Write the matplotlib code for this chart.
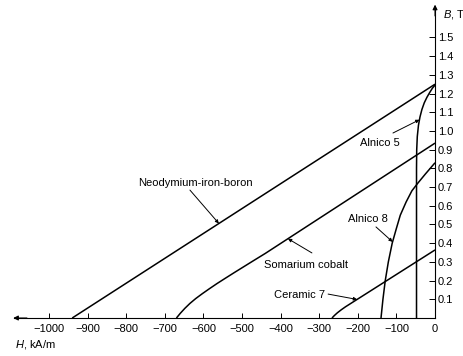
"""Demagnetization curves of common permanent-magnet materials."""
import numpy as np
import matplotlib

matplotlib.use("Agg")
import matplotlib.pyplot as plt  # noqa: E402

plt.rcParams["font.family"] = ["Liberation Sans", "DejaVu Sans"]
plt.rcParams["mathtext.fontset"] = "custom"
plt.rcParams["mathtext.it"] = "Liberation Sans:italic"
plt.rcParams["mathtext.rm"] = "Liberation Sans"

# H in kA/m, B in T
ndfeb_h = [-940, 0]
ndfeb_b = [0.0, 1.25]

smco_h = [-670, -660, -648, -635, -620, -603, -585, -565, -543, -520, -495, -470, -440, 0]
smco_b = [0.0, 0.025, 0.052, 0.078, 0.104, 0.13, 0.156, 0.184, 0.213, 0.243, 0.275, 0.307, 0.345, 0.935]

alnico5_h = [-48, -48, -47.5, -46, -43, -39, -34, -28, -21, -14, -7, 0]
alnico5_b = [0.0, 0.80, 0.90, 0.97, 1.03, 1.075, 1.115, 1.15, 1.18, 1.205, 1.228, 1.245]

alnico8_h = [-140, -135, -129, -121, -111, -100, -90, -75, -60, -45, -25, 0]
alnico8_b = [0.0, 0.10, 0.20, 0.30, 0.40, 0.48, 0.55, 0.62, 0.68, 0.72, 0.77, 0.83]

ceramic7_h = [-267, -261, -253, -243, -232, 0]
ceramic7_b = [0.0, 0.013, 0.028, 0.044, 0.06, 0.364]

x_ticks = list(range(-1000, 1, 100))
y_ticks = [round(0.1 * k, 1) for k in range(1, 16)]

# label text, text centre (H, B), leader start (H, B), leader tip on curve (H)
labels = [
    ("Neodymium-iron-boron", (-622, 0.722), (-635, 0.684), -560, ndfeb_h, ndfeb_b),
    ("Somarium cobalt", (-334, 0.283), (-319, 0.348), -381, smco_h, smco_b),
    ("Alnico 8", (-174, 0.529), (-153, 0.487), -110, alnico8_h, alnico8_b),
    ("Ceramic 7", (-350, 0.123), (-277, 0.128), -202, ceramic7_h, ceramic7_b),
]
# Alnico 5 is nearly vertical, so its tip is given as a B value
alnico5_label = ("Alnico 5", (-142, 0.936), (-109, 0.989), 1.06)

fig = plt.figure(figsize=(4.64, 3.56), dpi=100)
ax = fig.add_axes([0, 0, 1, 1])
ax.set_xlim(-1127, 75)
ax.set_ylim(-0.203, 1.70)

curve_kw = dict(color="black", lw=1.1, solid_capstyle="butt")
for h, b in [(ndfeb_h, ndfeb_b), (smco_h, smco_b), (alnico5_h, alnico5_b),
             (alnico8_h, alnico8_b), (ceramic7_h, ceramic7_b)]:
    ax.plot(h, b, **curve_kw)

# axes drawn through the origin, like the textbook figure
for side in ("left", "top"):
    ax.spines[side].set_visible(False)
ax.spines["bottom"].set_position(("data", 0))
ax.spines["bottom"].set_bounds(-1090, 0)
ax.spines["right"].set_position(("data", 0))
ax.spines["right"].set_bounds(0, 1.66)
for side in ("bottom", "right"):
    ax.spines[side].set_linewidth(0.8)

ax.yaxis.set_ticks_position("right")
ax.set_xticks(x_ticks)
ax.set_xticklabels([str(t).replace("-", "\u2212") for t in x_ticks])
ax.set_yticks(y_ticks)
ax.set_yticklabels([f"{t:.1f}" for t in y_ticks])
ax.tick_params(axis="x", direction="in", length=3.5, width=0.7, pad=4, labelsize=8)
ax.tick_params(axis="y", direction="in", length=4, width=0.7, pad=2, labelsize=8)

# arrow heads on the axes
arrow_kw = dict(arrowstyle="-|>", lw=0.8, color="black", mutation_scale=7)
ax.annotate("", xy=(-1100, 0), xytext=(-1050, 0), arrowprops=arrow_kw)
ax.annotate("", xy=(0, 1.69), xytext=(0, 1.6), arrowprops=arrow_kw)

ax.text(-1088, -0.144, "$H$, kA/m", fontsize=8, ha="left", va="center")
ax.text(20, 1.62, "$B$, T", fontsize=8, ha="left", va="center")

leader_kw = dict(arrowstyle="-|>", lw=0.7, color="black", mutation_scale=5,
                 shrinkA=0, shrinkB=0)
for text, pos, start, tip_h, h, b in labels:
    tip = (tip_h, np.interp(tip_h, h, b))
    ax.text(pos[0], pos[1], text, fontsize=8, ha="center", va="center")
    ax.annotate("", xy=tip, xytext=start, arrowprops=leader_kw)

text, pos, start, tip_b = alnico5_label
tip = (np.interp(tip_b, alnico5_b, alnico5_h), tip_b)
ax.text(pos[0], pos[1], text, fontsize=8, ha="center", va="center")
ax.annotate("", xy=tip, xytext=start, arrowprops=leader_kw)

fig.savefig("out.png", dpi=100)
